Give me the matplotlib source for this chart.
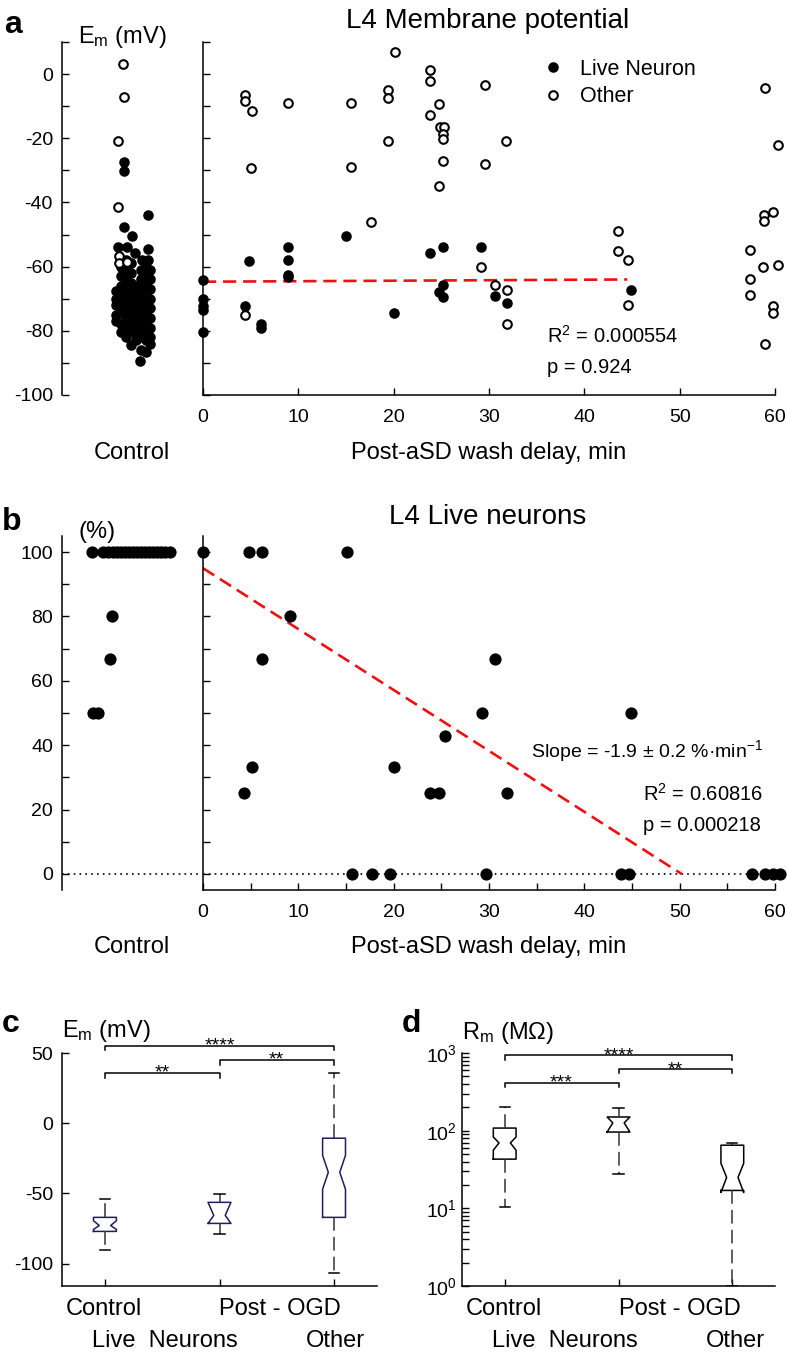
import matplotlib
matplotlib.use("Agg")
import matplotlib.pyplot as plt
from matplotlib.ticker import MultipleLocator, LogLocator, NullFormatter

plt.rcParams["font.family"] = ["Liberation Sans", "DejaVu Sans"]
plt.rcParams["mathtext.fontset"] = "custom"
plt.rcParams["mathtext.rm"] = "Liberation Sans"
plt.rcParams["mathtext.it"] = "Liberation Sans:italic"
plt.rcParams["mathtext.bf"] = "Liberation Sans:bold"
plt.rcParams["axes.unicode_minus"] = False

# ---- panel a : L4 membrane potential ----
# control group, x is only the horizontal jitter of the dots
a_ctrl_live_x = [-1.6, -1.6, -1.6, -1.6, -1.6,
                 -1.1, -1.1, -1.1, -1.1, -1.1, -1.1, -1.1, -1.1,
                 -0.6, -0.6, -0.6, -0.6, -0.6, -0.6, -0.6, -0.6, -0.6,
                 -0.1, -0.1, -0.1, -0.1, -0.1, -0.1, -0.1, -0.1, -0.1,
                 0.4, 0.4, 0.4, 0.4, 0.4, 0.4, 0.4,
                 0.9, 0.9, 0.9, 0.9, 0.9, 0.9, 0.9, 0.9, 0.9, 0.8,
                 1.4, 1.4, 1.4, 1.4, 1.4, 1.4, 1.4, 1.4, 1.4, 1.4,
                 1.8, 1.8, 1.8, 1.8, 1.8, 1.8, 1.8, 1.8, 1.8,
                 1.6, -0.8, 0.0, -1.4, -0.5, 0.3, 1.6, 1.0, 1.6, -0.8, -0.8, 1.3]
a_ctrl_live_y = [-67.5, -70, -72, -75, -77,
                 -60, -63, -66, -69, -72, -74, -78, -80.5,
                 -58, -61, -64, -67, -70, -73, -76, -79, -82,
                 -59, -62, -65, -68, -71, -74, -77, -80, -84.5,
                 -66, -69, -72, -75, -78, -81, -83,
                 -61, -64, -67, -70, -73, -76, -79, -82, -86, -89.5,
                 -60, -62.5, -65, -68, -71, -74, -77, -80, -83, -86.5,
                 -61, -64, -67, -70, -73, -76, -79, -82, -84,
                 -44, -47.8, -50.6, -53.8, -54, -55.7, -54.4, -57.8, -57.8, -27.3, -30.3, -58.5]
a_ctrl_other_x = [-0.9, -0.8, -1.4, -1.4, -1.3, -1.3, -0.5]
a_ctrl_other_y = [3.1, -7.2, -21, -41.5, -56.8, -58.8, -58.5]

a_live_x = [0, 0, 0, 0, 0, 4.8, 4.4, 6.1, 6.1, 8.9, 8.9, 8.9, 8.9, 15.0, 20.0,
            23.8, 25.2, 25.2, 24.8, 25.2, 29.2, 30.6, 31.9, 44.9]
a_live_y = [-64.1, -70.1, -72.4, -73.4, -80.3, -58.3, -72.4, -77.8, -79.1, -53.9, -57.8,
            -62.5, -63.3, -50.3, -74.3, -55.7, -53.9, -65.6, -68.0, -69.4, -53.9, -69.3,
            -71.3, -67.4]
a_other_x = [4.4, 4.4, 5.1, 8.9, 5.0, 15.5, 15.5, 20.1, 19.4, 19.4, 19.4, 23.8, 23.8,
             24.8, 23.8, 24.9, 25.3, 25.2, 25.2, 25.2, 24.8, 29.6, 29.6, 31.8, 58.9, 60.3,
             43.5, 43.5, 44.6, 44.6, 29.2, 30.6, 31.9, 31.9, 58.8, 58.8, 59.8, 57.4, 58.7,
             60.3, 57.4, 57.4, 59.8, 59.8, 58.9, 17.6, 4.4]
a_other_y = [-6.6, -8.4, -11.6, -9.1, -29.4, -9.1, -28.8, 6.9, -4.9, -7.5, -20.9, 1.3, -2.3,
             -9.2, -12.8, -16.4, -16.4, -18.8, -20.3, -27.1, -34.9, -3.4, -28.1, -20.9, -4.2,
             -22.1, -49.0, -55.2, -57.8, -71.8, -60.2, -65.6, -67.4, -77.9, -43.8, -45.8,
             -42.9, -54.7, -60.2, -59.4, -63.8, -68.8, -72.3, -74.6, -84.0, -46.1, -75.0]
a_fit_x = [0, 44.5]
a_fit_y = [-64.7, -64.0]

# ---- panel b : L4 live neurons (%) ----
b_ctrl_x = [-4.0, -2.9, -2.4, -1.9, -1.5, -1.1, -0.7, -0.3, 0.1, 0.5, 0.9, 1.3, 1.7, 2.1,
            2.5, 2.9, 3.3, 3.8, -2.0, -2.2, -3.9, -3.4]
b_ctrl_y = [100, 100, 100, 100, 100, 100, 100, 100, 100, 100, 100, 100, 100, 100,
            100, 100, 100, 100, 80, 66.7, 50, 50]
b_x = [0, 4.8, 6.2, 15.1, 9.1, 6.2, 30.6, 29.3, 44.9, 25.4, 5.1, 20.0, 4.3, 23.8, 24.8, 31.9,
       15.6, 17.7, 19.6, 29.7, 43.8, 44.7, 57.6, 58.9, 59.8, 60.5]
b_y = [100, 100, 100, 100, 80, 66.7, 66.7, 50, 50, 43, 33.3, 33.3, 25, 25, 25, 25,
       0, 0, 0, 0, 0, 0, 0, 0, 0, 0]
b_fit_x = [0, 50.2]
b_fit_y = [95, 0]

# ---- panels c, d : box plots ----
groups = ["Control", "Post - OGD live", "Post - OGD other"]
c_med = [-72.9, -65.7, -35.0]
c_q1 = [-77.1, -71.4, -67.1]
c_q3 = [-67.1, -56.4, -10.7]
c_cilo = [-75.7, -71.4, -47.1]
c_cihi = [-69.5, -56.4, -22.9]
c_lo = [-90.0, -79.3, -107.0]
c_hi = [-54.3, -50.7, 35.7]

d_med = [69.5, 126, 25]
d_q1 = [43, 96, 17]
d_q3 = [108, 150, 65]
d_cilo = [56, 96, 16]
d_cihi = [83, 150, 38]
d_lo = [10.4, 27.6, 1.0]
d_hi = [200, 195, 70]

c_sig = [(1, 2, "**"), (2, 3, "**"), (1, 3, "****")]
c_sig_y = [35.7, 45.0, 55.0]
d_sig = [(1, 2, "***"), (2, 3, "**"), (1, 3, "****")]
d_sig_y = [410, 620, 937]

W, H = 787, 1357
fig = plt.figure(figsize=(W / 100, H / 100), dpi=100)


def place(x0, y0, x1, y1):
    return [x0 / W, 1 - y1 / H, (x1 - x0) / W, (y1 - y0) / H]


def ftext(x, y, s, **kw):
    kw.setdefault("va", "baseline")
    fig.text(x / W, 1 - y / H, s, **kw)


def clean(ax, bottom=True):
    ax.spines["top"].set_visible(False)
    ax.spines["right"].set_visible(False)
    ax.spines["bottom"].set_visible(bottom)
    for sp in ax.spines.values():
        sp.set_linewidth(1.1)
    ax.tick_params(which="both", direction="in", width=1.0, length=5, labelsize=14)
    ax.tick_params(axis="x", pad=10)
    ax.tick_params(axis="y", pad=6.5)


live_kw = dict(ls="none", marker="o", color="black", mew=0, clip_on=False)
other_kw = dict(ls="none", marker="o", mfc="white", mec="black", ms=6.2, mew=1.5, clip_on=False)

# panel a
ax = fig.add_axes(place(62, 42, 202, 395))
clean(ax, bottom=False)
ax.set_xlim(-7, 7)
ax.set_ylim(-100, 10)
ax.set_xticks([])
ax.yaxis.set_major_locator(MultipleLocator(20))
ax.yaxis.set_minor_locator(MultipleLocator(10))
ax.plot(a_ctrl_live_x, a_ctrl_live_y, ms=7.6, **live_kw)
ax.plot(a_ctrl_other_x, a_ctrl_other_y, **other_kw)

ax = fig.add_axes(place(203, 42, 775, 395))
clean(ax)
ax.set_xlim(0, 60)
ax.set_ylim(-100, 10)
ax.xaxis.set_major_locator(MultipleLocator(10))
ax.yaxis.set_major_locator(MultipleLocator(10))
ax.tick_params(axis="y", labelleft=False)
ax.plot(a_fit_x, a_fit_y, color="#ee1111", lw=1.9, ls=(0, (5, 2.6)), zorder=1)
ax.plot(a_live_x, a_live_y, ms=7.6, label="Live Neuron", **live_kw)
ax.plot(a_other_x, a_other_y, label="Other", **other_kw)
ax.legend(loc="upper left", bbox_to_anchor=(542 / W, 1 - 59 / H), bbox_transform=fig.transFigure,
          frameon=False, fontsize=15.5, borderpad=0, borderaxespad=0, handlelength=1.0,
          handletextpad=0.75, labelspacing=0.3, numpoints=1)

ftext(547, 343, "R$^{\\mathregular{2}}$ = 0.000554", fontsize=14.5)
ftext(547, 373, "p = 0.924", fontsize=14.5)
ftext(488, 28, "L4 Membrane potential", ha="center", fontsize=20)
ftext(78, 43, "E$_{\\mathregular{m}}$ (mV)", fontsize=17)
ftext(132, 459, "Control", ha="center", fontsize=17)
ftext(489, 459, "Post-aSD wash delay, min", ha="center", fontsize=17)
ftext(4, 33, "a", fontsize=23, fontweight="bold")

# panel b
ax = fig.add_axes(place(62, 536, 202, 890))
clean(ax, bottom=False)
ax.set_xlim(-7, 7)
ax.set_ylim(-5, 105)
ax.set_xticks([])
ax.yaxis.set_major_locator(MultipleLocator(20))
ax.yaxis.set_minor_locator(MultipleLocator(10))
ax.axhline(0, color="black", lw=1.2, ls=(0, (1, 2.5)), zorder=1)
ax.plot(b_ctrl_x, b_ctrl_y, ms=8.8, **live_kw)

ax = fig.add_axes(place(203, 536, 775, 890))
clean(ax)
ax.set_xlim(0, 60)
ax.set_ylim(-5, 105)
ax.xaxis.set_major_locator(MultipleLocator(10))
ax.xaxis.set_minor_locator(MultipleLocator(5))
ax.yaxis.set_major_locator(MultipleLocator(10))
ax.tick_params(axis="y", labelleft=False)
ax.axhline(0, color="black", lw=1.2, ls=(0, (1, 2.5)), zorder=1)
ax.plot(b_fit_x, b_fit_y, color="#ee1111", lw=1.9, ls=(0, (5, 2.6)), zorder=1)
ax.plot(b_x, b_y, ms=8.8, **live_kw)

ftext(531, 757, "Slope = -1.9 ± 0.2 %·min$^{\\mathregular{-1}}$", fontsize=14)
ftext(643, 801, "R$^{\\mathregular{2}}$ = 0.60816", fontsize=14.5)
ftext(643, 831, "p = 0.000218", fontsize=14.5)
ftext(488, 524, "L4 Live neurons", ha="center", fontsize=20)
ftext(79, 538, "(%)", fontsize=17)
ftext(132, 953, "Control", ha="center", fontsize=17)
ftext(489, 953, "Post-aSD wash delay, min", ha="center", fontsize=17)
ftext(2, 530, "b", fontsize=23, fontweight="bold")


def boxes(ax, med, q1, q3, cilo, cihi, lo, hi, col):
    stats = []
    for i in range(len(med)):
        stats.append(dict(med=med[i], q1=q1[i], q3=q3[i], cilo=cilo[i], cihi=cihi[i],
                          whislo=lo[i], whishi=hi[i], fliers=[], label=groups[i]))
    ax.bxp(stats, positions=[1, 2, 3], widths=0.2, capwidths=0.09, shownotches=True,
           showfliers=False, manage_ticks=False,
           boxprops=dict(color=col, lw=1.1),
           whiskerprops=dict(color="#333333", lw=1.1, ls=(0, (9, 4))),
           capprops=dict(color="black", lw=1.1),
           medianprops=dict(ls="none"))
    ax.set_xlim(0.625, 3.375)
    ax.set_xticks([1, 2, 3])
    ax.set_xticklabels([])


def brackets(ax, sig, ys, drop):
    for (i, j, s), y in zip(sig, ys):
        ax.plot([i, i, j, j], [drop(y), y, y, drop(y)], color="black", lw=1.1, clip_on=False)
        ax.annotate(s, xy=((i + j) / 2, y), xytext=(0, -3.5), textcoords="offset points",
                    ha="center", va="baseline", fontsize=14, annotation_clip=False)


# panel c
ax = fig.add_axes(place(62, 1053, 377, 1286))
clean(ax)
boxes(ax, c_med, c_q1, c_q3, c_cilo, c_cihi, c_lo, c_hi, "#1e1e5a")
ax.set_ylim(-116, 50)
ax.set_yticks([-100, -50, 0, 50])
brackets(ax, c_sig, c_sig_y, lambda y: y - 3.2)
ftext(62, 1037, "E$_{\\mathregular{m}}$ (mV)", fontsize=17)
ftext(2, 1032, "c", fontsize=23, fontweight="bold")

# panel d
ax = fig.add_axes(place(462, 1053, 775, 1286))
clean(ax)
ax.set_yscale("log")
boxes(ax, d_med, d_q1, d_q3, d_cilo, d_cihi, d_lo, d_hi, "black")
ax.set_ylim(1, 1000)
ax.yaxis.set_major_locator(LogLocator(base=10, numticks=10))
ax.yaxis.set_minor_locator(LogLocator(base=10, subs=range(2, 10), numticks=10))
ax.yaxis.set_minor_formatter(NullFormatter())
ax.tick_params(axis="y", pad=4)
brackets(ax, d_sig, d_sig_y, lambda y: y * 0.88)
ftext(462, 1039, "R$_{\\mathregular{m}}$ (MΩ)", fontsize=17)
ftext(402, 1032, "d", fontsize=23, fontweight="bold")

for x0 in [0, 400]:
    ftext(104 + x0, 1315, "Control", ha="center", fontsize=17)
    ftext(280 + x0, 1315, "Post - OGD", ha="center", fontsize=17)
    ftext(165 + x0, 1347, "Live  Neurons", ha="center", fontsize=17)
    ftext(335 + x0, 1347, "Other", ha="center", fontsize=17)

fig.savefig("out.png", dpi=100)
